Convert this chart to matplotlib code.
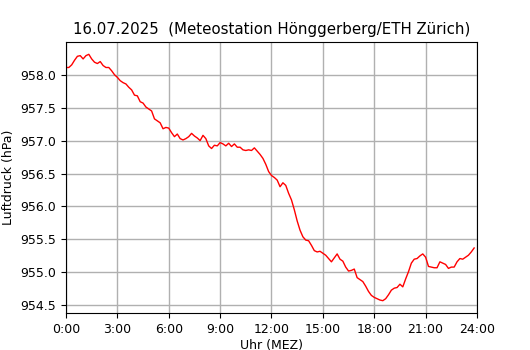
import matplotlib
matplotlib.use("Agg")
import matplotlib.pyplot as plt
import numpy as np

title = "16.07.2025  (Meteostation Hönggerberg/ETH Zürich)"
xlabel = "Uhr (MEZ)"
ylabel = "Luftdruck (hPa)"
step_minutes = 10
pressure = [
    958.11, 958.11, 958.15, 958.22, 958.28, 958.29, 958.24, 958.29, 958.31, 958.24,
    958.19, 958.17, 958.20, 958.14, 958.11, 958.11, 958.06, 958.00, 957.96, 957.91,
    957.88, 957.86, 957.81, 957.77, 957.69, 957.68, 957.59, 957.57, 957.51, 957.48,
    957.45, 957.33, 957.30, 957.27, 957.18, 957.20, 957.19, 957.12, 957.06, 957.10,
    957.03, 957.01, 957.03, 957.06, 957.11, 957.07, 957.04, 957.00, 957.08, 957.03,
    956.92, 956.88, 956.93, 956.92, 956.97, 956.95, 956.92, 956.96, 956.91, 956.95,
    956.90, 956.90, 956.86, 956.85, 956.86, 956.85, 956.89, 956.84, 956.79, 956.73,
    956.64, 956.53, 956.47, 956.44, 956.40, 956.30, 956.36, 956.32, 956.20, 956.10,
    955.95, 955.78, 955.64, 955.54, 955.49, 955.48, 955.41, 955.33, 955.31, 955.32,
    955.29, 955.26, 955.21, 955.16, 955.22, 955.28, 955.20, 955.17, 955.08, 955.02,
    955.03, 955.05, 954.92, 954.89, 954.86, 954.79, 954.71, 954.65, 954.62, 954.60,
    954.58, 954.57, 954.60, 954.66, 954.73, 954.76, 954.77, 954.82, 954.78, 954.90,
    955.01, 955.14, 955.20, 955.21, 955.25, 955.28, 955.23, 955.09, 955.08, 955.07,
    955.07, 955.16, 955.14, 955.12, 955.06, 955.08, 955.08, 955.16, 955.21, 955.20,
    955.23, 955.26, 955.31, 955.37,
]
xtick_hours = [0, 3, 6, 9, 12, 15, 18, 21, 24]
xtick_labels = ["0:00", "3:00", "6:00", "9:00", "12:00", "15:00", "18:00", "21:00", "24:00"]
ytick_values = [954.5, 955.0, 955.5, 956.0, 956.5, 957.0, 957.5, 958.0]

hours = np.arange(len(pressure)) * step_minutes / 60.0

fig = plt.figure(figsize=(5.3, 3.5), dpi=100)
ax = fig.add_axes([0.1245, 0.1057, 0.7755, 0.7743])
ax.plot(hours, pressure, color="red", linewidth=1.0)
ax.set_xlim(0, 24)
ax.set_xticks(xtick_hours)
ax.set_xticklabels(xtick_labels, fontsize=9)
ax.set_yticks(ytick_values)
ax.set_yticklabels([f"{v:.1f}" for v in ytick_values], fontsize=9)
ax.grid(True, color="#b0b0b0", linewidth=1.0)
ax.set_xlabel(xlabel, fontsize=9, labelpad=2)
ax.set_ylabel(ylabel, fontsize=9)
ax.set_title(title, fontsize=10.8)
fig.savefig("out.png", dpi=100)
